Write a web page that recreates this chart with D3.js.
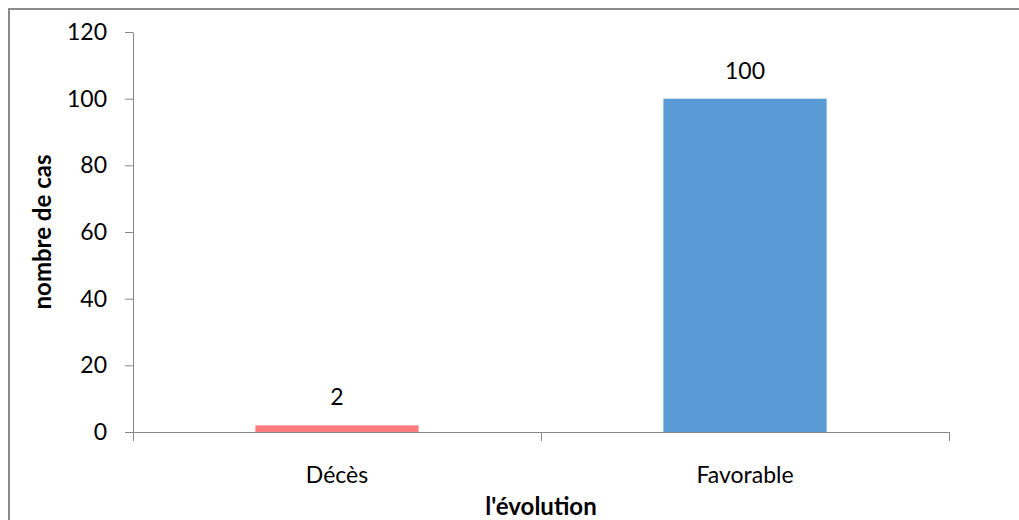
<!DOCTYPE html>
<html>
<head>
<meta charset="utf-8">
<script src="https://cdn.jsdelivr.net/npm/d3@7"></script>
<style>
  body { margin: 0; background: #fff; }
  svg { display: block; }
  svg text { font-family: Lato, "Open Sans", sans-serif; }
</style>
</head>
<body>
<div id="chart"></div>
<script>
// chart data
var categories = ['Décès', 'Favorable'];
var values = [2, 100];
var barColors = ['#ff7c80', '#5b9bd5'];
var yTicks = [0, 20, 40, 60, 80, 100, 120];

var W = 1019, H = 520;
var margin = { top: 32, right: 70, bottom: 88, left: 133 };
var width = W - margin.left - margin.right,
    height = H - margin.top - margin.bottom;
var axisColor = '#888888';

var svg = d3.select('#chart').append('svg')
  .attr('width', W)
  .attr('height', H);

// outer chart border (runs off the right and bottom edges)
svg.append('rect')
  .attr('x', 9).attr('y', 9)
  .attr('width', W + 20).attr('height', H + 20)
  .attr('fill', 'none')
  .attr('stroke', '#8a8a8a')
  .attr('stroke-width', 2);

var g = svg.append('g')
  .attr('transform', 'translate(' + margin.left + ',' + margin.top + ')');

var x = d3.scaleBand()
  .domain(categories)
  .range([0, width])
  .paddingInner(0.6)
  .paddingOuter(0.3);

// category slots for the axis boundaries
var xCat = d3.scaleBand()
  .domain(categories)
  .range([0, width]);

var y = d3.scaleLinear()
  .domain([0, 120])
  .range([height, 0]);

// bars
g.selectAll('rect.bar').data(values)
  .enter().append('rect')
  .attr('class', 'bar')
  .attr('x', function(d, i) { return x(categories[i]); })
  .attr('width', x.bandwidth())
  .attr('y', function(d) { return y(d); })
  .attr('height', function(d) { return height - y(d); })
  .attr('fill', function(d, i) { return barColors[i]; });

// value labels
g.selectAll('text.val').data(values)
  .enter().append('text')
  .attr('class', 'val')
  .attr('x', function(d, i) { return x(categories[i]) + x.bandwidth() / 2; })
  .attr('y', function(d) { return y(d) - 20; })
  .attr('text-anchor', 'middle')
  .style('font-size', '23px')
  .attr('fill', '#000')
  .text(function(d) { return d; });

// y axis
var yAxis = d3.axisLeft(y).tickValues(yTicks).tickSize(8).tickPadding(18);
var yg = g.append('g').call(yAxis).attr('font-family', null);
yg.select('.domain').attr('stroke', axisColor).attr('d', 'M0.5,' + (height + 9) + 'V0.5');
yg.selectAll('line').attr('stroke', axisColor);
yg.selectAll('text').style('font-size', '23px').attr('fill', '#000');

// x axis
var xAxis = d3.axisBottom(xCat).tickSize(0);
var xg = g.append('g')
  .attr('transform', 'translate(0,' + height + ')')
  .call(xAxis)
  .attr('font-family', null);
xg.select('.domain').attr('stroke', axisColor).attr('d', 'M-8,0.5H' + (width + 0.5));
xg.selectAll('text')
  .attr('y', 51).attr('dy', null)
  .style('font-size', '23px').attr('fill', '#000');

// category boundary ticks
var bounds = [0, width / 2, width];
xg.selectAll('line.bound').data(bounds)
  .enter().append('line')
  .attr('class', 'bound')
  .attr('x1', function(d) { return d + 0.5; })
  .attr('x2', function(d) { return d + 0.5; })
  .attr('y1', 0).attr('y2', 9)
  .attr('stroke', axisColor);

// axis titles
svg.append('text')
  .attr('transform', 'translate(51,' + 232 + ') rotate(-90)')
  .attr('text-anchor', 'middle')
  .style('font-size', '24px')
  .style('font-weight', 'bold')
  .text('nombre de cas');

svg.append('text')
  .attr('x', margin.left + width / 2)
  .attr('y', 515)
  .attr('text-anchor', 'middle')
  .style('font-size', '24px')
  .style('font-weight', 'bold')
  .text("l'évolution");
</script>
</body>
</html>
